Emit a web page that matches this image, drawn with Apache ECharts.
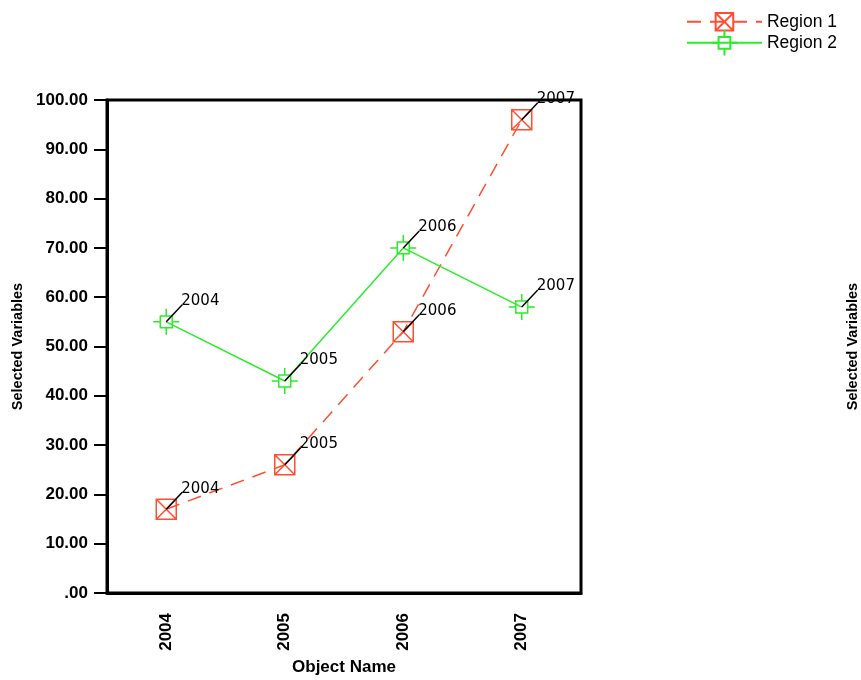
<!DOCTYPE html>
<html>
<head>
<meta charset="utf-8">
<script src="https://cdn.jsdelivr.net/npm/echarts@6/dist/echarts.min.js"></script>
<style>
html,body{margin:0;padding:0;background:#fff;}
#chart{width:861px;height:680px;}
</style>
</head>
<body>
<div id="chart"></div>
<script>
const categories = ['2004', '2005', '2006', '2007'];
const region1 = [17, 26, 53, 96];
const region2 = [55, 43, 70, 58];
const seriesNames = ['Region 1', 'Region 2'];
const yMin = 0, yMax = 100, yStep = 10;

const RED = '#ff4f30';
const GREEN = '#2bec2b';
const symR1 = 'path://M0,0H20V20H0Z M0,0L20,20 M20,0L0,20';
const symR2 = 'path://M6.5,6.5H17.5V17.5H6.5Z M12,0V6.5 M12,17.5V24 M0,12H6.5 M17.5,12H24';

function labelSeries(vals) {
  return {
    type: 'custom',
    z: 10,
    silent: true,
    data: vals.map((v, i) => [i, v]),
    renderItem: function (params, api) {
      const p = api.coord([api.value(0), api.value(1)]);
      return {
        type: 'group',
        children: [
          {type: 'line', shape: {x1: p[0], y1: p[1], x2: p[0] + 16, y2: p[1] - 17},
           style: {stroke: '#000', lineWidth: 1.5}},
          {type: 'text', x: p[0] + 15, y: p[1] - 13,
           style: {text: categories[api.value(0)], font: '15px "DejaVu Sans"', fill: '#000',
                   align: 'left', verticalAlign: 'bottom'}}
        ]
      };
    }
  };
}

const legendText = {fontFamily: 'Liberation Sans', fontSize: 17.5, color: '#000'};

const chart = echarts.init(document.getElementById('chart'));
chart.setOption({
  animation: false,
  backgroundColor: '#fff',
  legend: [{
    data: [seriesNames[0]],
    orient: 'vertical',
    right: 19,
    top: 7,
    itemWidth: 75,
    itemHeight: 22,
    textStyle: legendText
  }, {
    data: [seriesNames[1]],
    orient: 'vertical',
    right: 19,
    top: 24,
    itemWidth: 75,
    itemHeight: 32,
    textStyle: legendText
  }],
  grid: {
    left: 107, right: 280, top: 100, bottom: 87,
    containLabel: false,
    outerBoundsMode: 'none',
    show: true, borderColor: '#000', borderWidth: 3, backgroundColor: 'transparent'
  },
  xAxis: {
    type: 'category',
    data: categories,
    boundaryGap: true,
    name: 'Object Name',
    nameLocation: 'middle',
    nameGap: 65,
    nameTextStyle: {fontFamily: 'Liberation Sans', fontWeight: 'bold', fontSize: 17, color: '#000'},
    axisLine: {lineStyle: {color: '#000', width: 3}},
    axisTick: {alignWithLabel: true, length: 10, lineStyle: {color: '#000', width: 2}},
    axisLabel: {rotate: 90, margin: 20, fontFamily: 'Liberation Sans', fontWeight: 'bold', fontSize: 17, color: '#000'},
    splitLine: {show: false}
  },
  yAxis: [{
    type: 'value',
    min: yMin, max: yMax, interval: yStep,
    name: 'Selected Variables',
    nameLocation: 'middle',
    nameGap: 81,
    nameTextStyle: {fontFamily: 'Liberation Sans', fontWeight: 'bold', fontSize: 14.5, color: '#000'},
    axisLine: {show: true, lineStyle: {color: '#000', width: 3}},
    axisTick: {show: true, length: 13, lineStyle: {color: '#000', width: 2}},
    axisLabel: {margin: 19, fontFamily: 'Liberation Sans', fontWeight: 'bold', fontSize: 17, color: '#000',
      formatter: v => v === 0 ? '.00' : v.toFixed(2)},
    splitLine: {show: false}
  }, {
    type: 'value',
    position: 'right',
    min: yMin, max: yMax, interval: yStep,
    name: 'Selected Variables',
    nameLocation: 'middle',
    nameGap: 264,
    nameTextStyle: {fontFamily: 'Liberation Sans', fontWeight: 'bold', fontSize: 14.5, color: '#000'},
    axisLine: {show: false},
    axisTick: {show: false},
    axisLabel: {show: false},
    splitLine: {show: false}
  }],
  series: [{
    name: seriesNames[0],
    type: 'line',
    data: region1,
    symbol: symR1,
    symbolSize: 20,
    symbolKeepAspect: true,
    z: 3,
    lineStyle: {color: RED, width: 1.5, type: [14, 9]},
    itemStyle: {color: 'rgba(0,0,0,0)', borderColor: RED, borderWidth: 1.5}
  }, {
    name: seriesNames[1],
    type: 'line',
    data: region2,
    symbol: symR2,
    symbolSize: 26,
    symbolKeepAspect: true,
    z: 4,
    lineStyle: {color: GREEN, width: 1.5},
    itemStyle: {color: 'rgba(0,0,0,0)', borderColor: GREEN, borderWidth: 1.5}
  },
  labelSeries(region1),
  labelSeries(region2)
  ]
});
</script>
</body>
</html>
